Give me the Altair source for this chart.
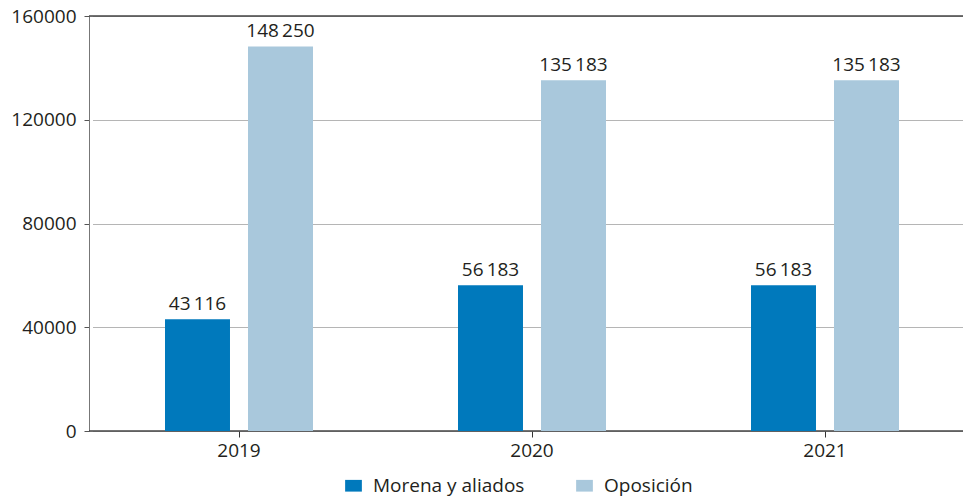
import altair as alt
import pandas as pd

years = ["2019", "2020", "2021"]
series = ["Morena y aliados", "Oposición"]
morena = [43116, 56183, 56183]
oposicion = [148250, 135183, 135183]
y_ticks = [0, 40000, 80000, 120000, 160000]
colors = ["#0079bc", "#a9c8dc"]

rows = []
for i, y in enumerate(years):
    for s, vals in zip(series, [morena, oposicion]):
        v = vals[i]
        rows.append({"year": y, "serie": s, "value": v,
                     "label": f"{v:,}".replace(",", "\u2009")})
df = pd.DataFrame(rows)

FONT = "Open Sans"
TXT = "#231f20"

x_enc = alt.X("year:N", sort=years,
              scale=alt.Scale(range=[3.5, 882.5], paddingInner=0, paddingOuter=0),
              axis=alt.Axis(title=None, labelAngle=0, domain=False, grid=False,
                            tickColor="#333", tickSize=6, labelFontSize=19,
                            labelFont=FONT, labelColor=TXT, labelPadding=4))
xoff = alt.XOffset("serie:N", sort=series,
                   scale=alt.Scale(paddingInner=0.217, paddingOuter=0.8735))
y_enc = alt.Y("value:Q",
              scale=alt.Scale(domain=[0, 160000], nice=False),
              axis=alt.Axis(title=None, values=y_ticks, format="d",
                            domainColor="#777", tickColor="#555", tickSize=5,
                            gridColor="#b5b5b5", labelFontSize=19, labelFont=FONT,
                            labelColor=TXT, labelPadding=8))

bars = alt.Chart(df).mark_bar().encode(
    x=x_enc, xOffset=xoff, y=y_enc,
    color=alt.Color("serie:N", sort=series,
                    scale=alt.Scale(domain=series, range=colors),
                    legend=alt.Legend(title=None, orient="none", legendX=255, legendY=460,
                                      direction="horizontal", labelFont=FONT,
                                      labelFontSize=19, labelColor=TXT,
                                      symbolType="M-1,-0.7H1V0.7H-1Z", symbolSize=280,
                                      symbolStrokeWidth=0, symbolOpacity=1,
                                      labelOffset=10, columnPadding=50)))

labels = alt.Chart(df).mark_text(baseline="bottom", dy=-5, fontSize=19, font=FONT,
                                 color=TXT).encode(
    x=alt.X("year:N", sort=years), xOffset=alt.XOffset("serie:N", sort=series),
    y="value:Q", text="label:N")

rules = alt.Chart(pd.DataFrame({"v": [0, 160000]})).mark_rule(
    color="#444", strokeWidth=1.5).encode(y="v:Q")

chart = alt.layer(rules, bars, labels).properties(
    width=874, height=415,
    autosize=alt.AutoSizeParams(type="none"),
    padding={"left": 89, "top": 16, "right": 0, "bottom": 67},
).configure_view(stroke=None).configure(background="white")

chart.save("out.html", embed_options={"renderer": "svg", "actions": False})
